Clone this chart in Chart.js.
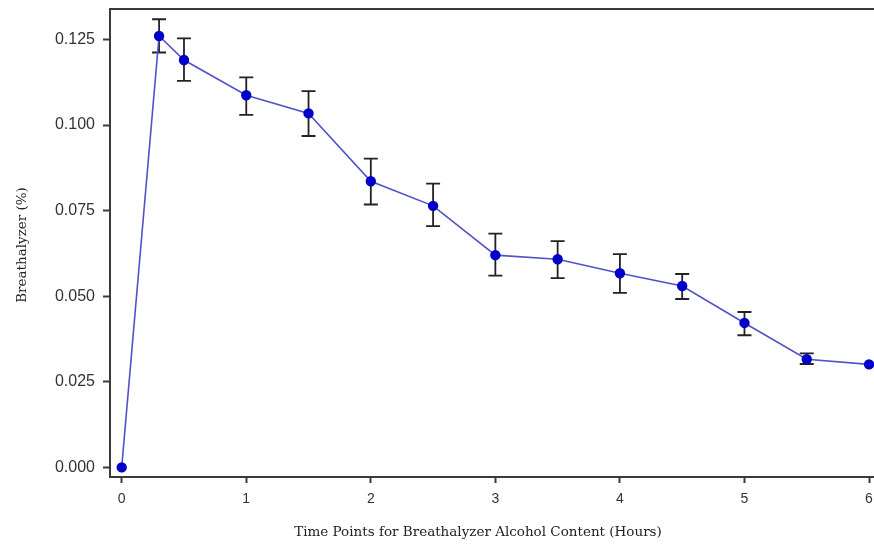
<!DOCTYPE html>
<html>
<head>
<meta charset="utf-8">
<script src="https://cdn.jsdelivr.net/npm/chart.js@4.4.0/dist/chart.umd.min.js"></script>
<style>
  html, body { margin: 0; padding: 0; background: #fff; }
  #wrap { width: 874px; height: 545px; }
</style>
</head>
<body>
<div id="wrap"><canvas id="breathChart" width="874" height="545"></canvas></div>
<script>
// hours after drinking
const times = [0, 0.3, 0.5, 1, 1.5, 2, 2.5, 3, 3.5, 4, 4.5, 5, 5.5, 6];
// mean breathalyzer reading (%)
const means = [0, 0.126, 0.119, 0.1087, 0.1034, 0.0836, 0.0764, 0.062, 0.0608, 0.0567, 0.053, 0.0422, 0.0316, 0.0301];
// error bar ends
const upper = [null, 0.1309, 0.1253, 0.1139, 0.1099, 0.0902, 0.0829, 0.0683, 0.0661, 0.0623, 0.0565, 0.0454, 0.0333, null];
const lower = [null, 0.1212, 0.1129, 0.1030, 0.0968, 0.0768, 0.0705, 0.0560, 0.0553, 0.0510, 0.0492, 0.0386, 0.0302, null];

const xTicks = [0, 1, 2, 3, 4, 5, 6];
const yTicks = [0, 0.025, 0.05, 0.075, 0.1, 0.125];

const xTitle = 'Time Points for Breathalyzer Alcohol Content (Hours)';
const yTitle = 'Breathalyzer (%)';

const axisColor = '#3a3a3a';
const titleFont = "13.5px 'DejaVu Serif', serif";

// error bars drawn under the points
const errorBars = {
    id: 'errorBars',
    beforeDatasetsDraw(chart) {
        const { ctx, scales: { x, y } } = chart;
        ctx.save();
        ctx.strokeStyle = '#222';
        ctx.lineWidth = 1.8;
        times.forEach((t, i) => {
            if (upper[i] == null) return;
            const px = x.getPixelForValue(t);
            const top = y.getPixelForValue(upper[i]);
            const bot = y.getPixelForValue(lower[i]);
            ctx.beginPath();
            ctx.moveTo(px, top); ctx.lineTo(px, bot);
            ctx.moveTo(px - 7, top); ctx.lineTo(px + 7, top);
            ctx.moveTo(px - 7, bot); ctx.lineTo(px + 7, bot);
            ctx.stroke();
        });
        ctx.restore();
    }
};

// top frame line and the two axis titles
const frameAndTitles = {
    id: 'frameAndTitles',
    afterDraw(chart) {
        const { ctx, chartArea } = chart;
        ctx.save();
        ctx.strokeStyle = axisColor;
        ctx.lineWidth = 2;
        ctx.beginPath();
        ctx.moveTo(chartArea.left - 1, chartArea.top);
        ctx.lineTo(chart.width, chartArea.top);
        ctx.stroke();

        ctx.fillStyle = '#222';
        ctx.font = titleFont;
        ctx.textAlign = 'center';
        ctx.textBaseline = 'middle';
        ctx.fillText(xTitle, 478, 532);
        ctx.translate(22, 245);
        ctx.rotate(-Math.PI / 2);
        ctx.fillText(yTitle, 0, 0);
        ctx.restore();
    }
};

const noPad = s => { s.paddingTop = 0; s.paddingBottom = 0; s.paddingLeft = 0; s.paddingRight = 0; };

const ctx = document.getElementById('breathChart').getContext('2d');
new Chart(ctx, {
    type: 'line',
    data: {
        datasets: [{
            data: times.map((t, i) => ({ x: t, y: means[i] })),
            borderColor: '#5252c8',
            borderWidth: 1.6,
            pointBackgroundColor: '#0000c8',
            pointBorderColor: '#0000c8',
            pointRadius: 4.4,
            tension: 0,
            fill: false,
            clip: false
        }]
    },
    options: {
        responsive: false,
        animation: false,
        layout: { autoPadding: false, padding: { top: 9, right: 0, bottom: 0, left: 0 } },
        plugins: { legend: { display: false }, tooltip: { enabled: false } },
        scales: {
            x: {
                type: 'linear',
                min: -0.094,
                max: 6.04,
                afterBuildTicks: s => { s.ticks = xTicks.map(v => ({ value: v })); },
                afterFit: s => { s.height = 68; noPad(s); },
                ticks: { color: '#333', font: { family: "'Liberation Sans', Arial, sans-serif", size: 14 }, padding: 8, callback: v => String(v) },
                grid: { drawOnChartArea: false, tickLength: 6, color: axisColor, tickWidth: 2 },
                border: { color: axisColor, width: 2 }
            },
            y: {
                min: -0.0028,
                max: 0.1339,
                afterBuildTicks: s => { s.ticks = yTicks.map(v => ({ value: v })); },
                afterFit: s => { s.width = 110; noPad(s); },
                ticks: { color: '#333', font: { family: "'Liberation Sans', Arial, sans-serif", size: 16 }, padding: 8, callback: v => v.toFixed(3) },
                grid: { drawOnChartArea: false, tickLength: 7, color: axisColor, tickWidth: 2 },
                border: { color: axisColor, width: 2 }
            }
        }
    },
    plugins: [errorBars, frameAndTitles]
});
</script>
</body>
</html>
